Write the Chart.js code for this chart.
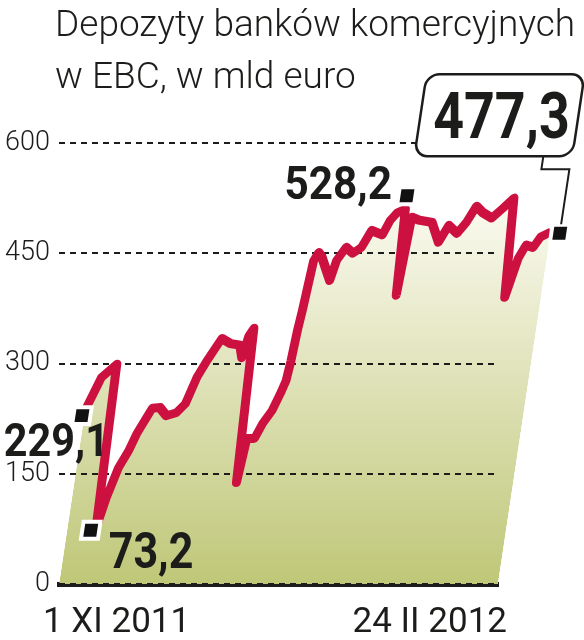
<!DOCTYPE html>
<html lang="pl">
<head>
<meta charset="utf-8">
<title>Depozyty banków komercyjnych w EBC</title>
<script src="https://cdn.jsdelivr.net/npm/chart.js@4.4.1/dist/chart.umd.min.js"></script>
<style>
  html, body { margin: 0; padding: 0; background: #fff; }
  canvas { display: block; }
</style>
</head>
<body>
<canvas id="chart" width="584" height="640"></canvas>
<script>
// days counted from 1 XI 2011 (0) to 24 II 2012 (115), values in bn euro
const days = [0, 3, 6.5, 7.5, 9, 11, 13, 14.5, 17.5, 19.5,
  21.5, 24, 26, 28, 30, 33, 35.5, 38, 39, 40,
  41, 42.5, 43.5, 45.5, 47, 49, 50.5, 51.5, 52, 52.5,
  53, 54, 55, 56, 59, 60, 62, 64, 66, 68,
  71, 72.5, 74, 76, 77, 78, 80, 83.5, 86, 88,
  90.5, 92.5, 94.5, 96.5, 99, 101.5, 104, 105.5, 107.5, 109,
  111, 112.5, 115];
const deposits = [236, 281, 299, 76, 117, 158, 181, 205, 239, 240,
  229, 233, 245, 281, 304, 334, 327, 325, 308, 338,
  348, 138, 198, 198, 218, 236, 259, 277, 304, 345,
  372, 440, 451, 445, 413, 440, 458, 450, 458, 481,
  475, 495, 505, 510, 393, 499, 495, 492, 465, 488,
  477, 492, 514, 505, 498, 511, 525, 390, 443, 461,
  458, 472, 479];

// highlighted values (black squares)
const markerDays = [-0.6, 6.2, 75.9, 117.4];
const markerValues = [229.1, 73.2, 528.2, 477.3];
const markerLabels = ['229,1', '73,2', '528,2', '477,3'];

const yTicks = [0, 150, 300, 450, 600];
const xLabels = ['1 XI 2011', '24 II 2012'];
const titleLines = ['Depozyty banków komercyjnych', 'w EBC, w mld euro'];

const SHEAR = 0.15;
const RED = '#cc1141';
const INK = '#1c1c1a';

// the whole plot leans to the right
function shear(chart) {
  chart.ctx.transform(1, 0, -SHEAR, 1, SHEAR * chart.chartArea.bottom, 0);
}
function toScreen(chart, p) {
  return { x: p.x + SHEAR * (chart.chartArea.bottom - p.y), y: p.y };
}

// bold digits, squeezed sideways to look like a condensed face
function narrowText(ctx, text, x, y, align, size, squeeze) {
  ctx.save();
  ctx.font = '700 ' + size + 'px Roboto';
  ctx.textAlign = 'left';
  const w = ctx.measureText(text).width * squeeze;
  const left = align === 'right' ? x - w : align === 'center' ? x - w / 2 : x;
  ctx.translate(left, y);
  ctx.scale(squeeze, 1);
  ctx.fillText(text, 0, 0);
  ctx.restore();
}

const slantPlugin = {
  id: 'slant',
  beforeDatasetsDraw(chart) {
    chart.ctx.save();
    shear(chart);
  },
  beforeDatasetDraw(chart, args) {
    if (args.index !== 0) return;
    // fill is already painted here: put the dashed grid over it, under the line
    chart.ctx.restore();
    chart.scales.y.drawGrid(chart.chartArea);
    chart.ctx.save();
    shear(chart);
  },
  afterDatasetsDraw(chart) {
    chart.ctx.restore();
  }
};

const textPlugin = {
  id: 'texts',
  afterDraw(chart) {
    const { ctx, chartArea } = chart;
    const marks = chart.getDatasetMeta(1).data;
    const pts = marks.map(p => toScreen(chart, p));

    ctx.save();
    ctx.fillStyle = INK;
    ctx.textBaseline = 'alphabetic';

    // title
    ctx.font = '300 37px Roboto';
    ctx.textAlign = 'left';
    ctx.fillText(titleLines[0], 55, 36);
    ctx.fillText(titleLines[1], 55, 88);

    // dates under the axis
    ctx.font = '400 35px Roboto';
    ctx.textAlign = 'left';
    ctx.fillText(xLabels[0], chartArea.left - 16, chartArea.bottom + 48);
    ctx.textAlign = 'right';
    ctx.fillText(xLabels[1], chartArea.right + 9, chartArea.bottom + 48);

    // value labels
    narrowText(ctx, markerLabels[0], pts[0].x + 27, pts[0].y + 40, 'right', 47, 0.88);
    narrowText(ctx, markerLabels[1], pts[1].x + 18, pts[1].y + 38, 'left', 50, 0.86);
    narrowText(ctx, markerLabels[2], pts[2].x - 15, pts[2].y + 3, 'right', 47, 0.9);

    // callout box for the last value
    const mx = marks[3].x, my = marks[3].y;
    ctx.save();
    shear(chart);
    ctx.strokeStyle = INK;
    ctx.fillStyle = '#fff';
    ctx.lineWidth = 2.5;
    ctx.beginPath();
    ctx.roundRect(mx - 157, my - 159, 158, 82, 13);
    ctx.fill();
    ctx.stroke();
    ctx.lineWidth = 2;
    ctx.beginPath();
    ctx.moveTo(mx - 28, my - 77);
    ctx.lineTo(mx - 28, my - 64);
    ctx.lineTo(mx, my - 64);
    ctx.lineTo(mx, my - 9);
    ctx.stroke();
    ctx.restore();

    const c = toScreen(chart, { x: mx - 78, y: my - 118 });
    narrowText(ctx, markerLabels[3], c.x + 2, my - 95, 'center', 64, 0.84);
    ctx.restore();
  }
};

new Chart(document.getElementById('chart'), {
  type: 'line',
  data: {
    datasets: [{
      data: days.map((d, i) => ({ x: d, y: deposits[i] })),
      borderColor: RED,
      borderWidth: 9,
      borderJoinStyle: 'round',
      borderCapStyle: 'butt',
      pointRadius: 0,
      tension: 0,
      clip: false,
      fill: 'origin',
      backgroundColor: (ctx) => {
        const area = ctx.chart.chartArea;
        if (!area) return '#dfe3b4';
        const g = ctx.chart.ctx.createLinearGradient(0, area.top + 50, 0, area.bottom);
        g.addColorStop(0, '#fcfbf3');
        g.addColorStop(1, '#bfc778');
        return g;
      },
      order: 2
    }, {
      data: markerDays.map((d, i) => ({ x: d, y: markerValues[i] })),
      showLine: false,
      pointStyle: 'rect',
      pointRadius: 12,
      pointBackgroundColor: '#111',
      pointBorderColor: '#fff',
      pointBorderWidth: 4,
      clip: false,
      fill: false,
      order: 1
    }]
  },
  options: {
    responsive: false,
    animation: false,
    layout: { padding: { top: 143, right: 86, left: 0, bottom: 0 } },
    plugins: {
      legend: { display: false },
      tooltip: { enabled: false },
      title: { display: false }
    },
    scales: {
      x: {
        type: 'linear',
        min: 0,
        max: 115,
        grid: { display: false },
        ticks: { display: false },
        border: { display: true, color: INK, width: 5 },
        afterFit: (scale) => { scale.height = 56; }
      },
      y: {
        min: 0,
        max: 600,
        afterBuildTicks: (scale) => { scale.ticks = yTicks.map(v => ({ value: v })); },
        ticks: {
          color: INK,
          padding: 9,
          font: { family: 'Roboto', weight: '300', size: 27 },
          callback: (v) => String(v)
        },
        grid: { color: INK, lineWidth: 2, drawTicks: false },
        border: { display: false, dash: [6, 5] },
        afterFit: (scale) => { scale.width = 59; }
      }
    }
  },
  plugins: [slantPlugin, textPlugin]
});
</script>
</body>
</html>
